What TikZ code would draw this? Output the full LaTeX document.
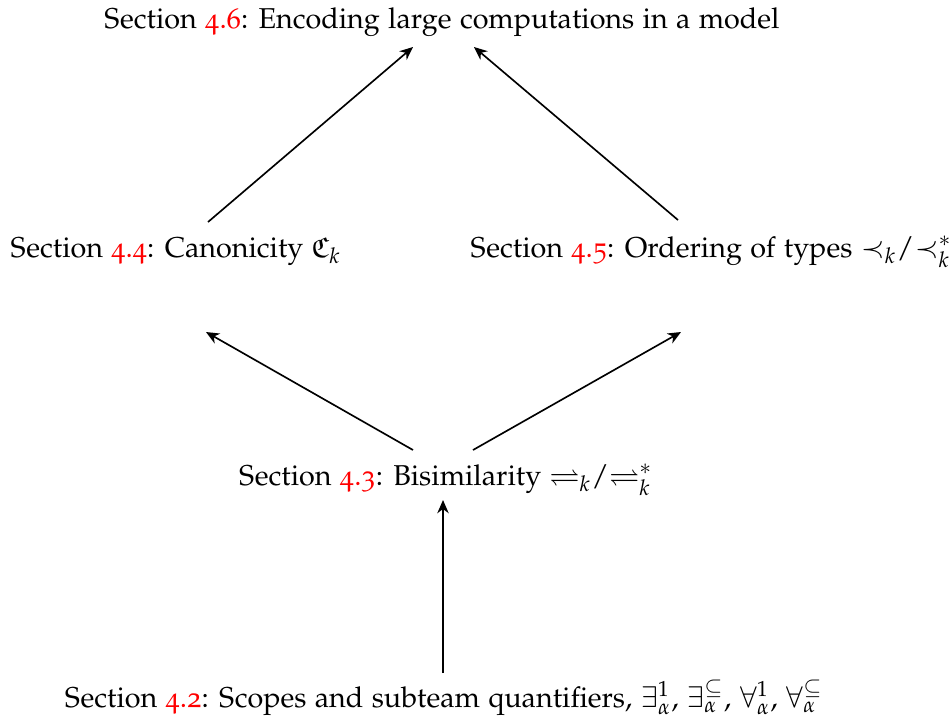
\documentclass[tikz,border=0pt]{standalone}
\usepackage[T1]{fontenc}
\usepackage[osf]{mathpazo}
\usepackage{amssymb}
\usetikzlibrary{arrows.meta,calc}
\newcommand\secref[1]{\textcolor{red}{#1}}
\begin{document}
\begin{tikzpicture}[x=0.3333pt,y=-0.3333pt,
  lbl/.style={inner sep=0pt,anchor=base,font=\fontsize{9.57}{11.5}\selectfont},
  arr/.style={-{Stealth[length=4.4pt,width=3.8pt,inset=1.4pt]},line width=0.55pt}]
\useasboundingbox (0,0) rectangle (949,724);
\node[lbl] (s46) at (442,28) {Section \secref{4.6}: Encoding large computations in a model};
\node[lbl,anchor=base west] (s44) at (10,257) {Section \secref{4.4}: Canonicity $\mathfrak{C}_k$};
\node[lbl,anchor=base west] (s45) at (470,257) {Section \secref{4.5}: Ordering of types ${\prec_k}/{\prec^*_k}$};
\node[lbl] (s43) at (446,485) {Section \secref{4.3}: Bisimilarity ${\rightleftharpoons_k}/{\rightleftharpoons^*_k}$};
\node[lbl] (s42) at (444,707) {Section \secref{4.2}: Scopes and subteam quantifiers, $\exists^1_\alpha$, $\exists^{\subseteq}_\alpha$, $\forall^1_\alpha$, $\forall^{\subseteq}_\alpha$};
\draw[arr] ($(s44.base west)+(198,-35)$) -- ($(s46.base)+(-29,19)$);
\draw[arr] ($(s45.base west)+(208,-37)$) -- ($(s46.base)+(32,19)$);
\draw[arr] ($(s43.base)+(-33,-35)$) -- ($(s44.base west)+(196,75)$);
\draw[arr] ($(s43.base)+(27,-35)$) -- ($(s45.base west)+(211,75)$);
\draw[arr] ($(s42.base)+(-1,-34)$) -- ($(s43.base)+(-3,15)$);
\end{tikzpicture}
\end{document}
